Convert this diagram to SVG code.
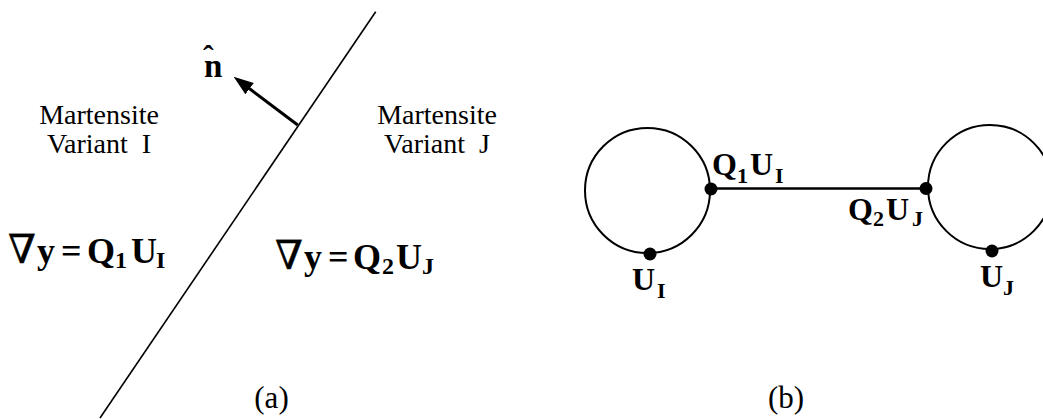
<svg xmlns="http://www.w3.org/2000/svg" width="1043" height="419" viewBox="0 0 1043 419">
<style>
.reg{font-family:"Liberation Serif","Times New Roman",serif;font-size:28px;fill:#000}
.lab{font-family:"Liberation Serif","DejaVu Serif",serif;font-weight:bold;fill:#000}
.nabla{font-family:"DejaVu Serif","Liberation Serif",serif;font-weight:normal;font-size:40px;stroke:#000;stroke-width:0.4}
.big{font-size:36px}
.bsub{font-size:24px}
.mid{font-size:32px}
.msub{font-size:22px}
.cap{font-family:"Liberation Serif","Times New Roman",serif;font-size:31px;fill:#000}
.thin{stroke:#000;stroke-width:1.6;fill:none}
.circ{stroke:#000;stroke-width:2;fill:none}
.dot{fill:#000}
</style>
<defs>
<marker id="ah" markerUnits="userSpaceOnUse" markerWidth="22" markerHeight="16" refX="2" refY="7" orient="auto">
<path d="M0,0 L20,7 L0,14 z" fill="#000"/>
</marker>
</defs>
<rect width="1043" height="419" fill="#fff"/>

<g id="panel-a">
<line id="interface" class="thin" x1="375.7" y1="11.7" x2="100" y2="418"/>
<g id="normal">
<line x1="297.7" y1="125" x2="248" y2="87.5" stroke="#000" stroke-width="3" marker-end="url(#ah)"/>
<text class="lab" x="204" y="77" font-size="33">n<tspan x="203" y="67" font-size="32">ˆ</tspan></text>
</g>
<g id="variantI">
<text class="reg" x="99" y="124" text-anchor="middle">Martensite</text>
<text class="reg" x="99" y="153" text-anchor="middle" xml:space="preserve">Variant  I</text>
</g>
<g id="variantJ">
<text class="reg" x="437" y="124" text-anchor="middle">Martensite</text>
<text class="reg" x="437" y="153" text-anchor="middle" xml:space="preserve">Variant  J</text>
</g>
<g id="eqI" class="lab">
<text class="nabla" x="8" y="263">∇</text>
<text class="big" x="37" y="263">y</text>
<text class="big" x="61" y="263">=</text>
<text class="big" x="87" y="263">Q</text>
<text class="bsub" x="115" y="268">1</text>
<text class="big" x="131" y="263">U</text>
<text class="bsub" x="156" y="268">I</text>
</g>
<g id="eqJ" class="lab">
<text class="nabla" x="275" y="269">∇</text>
<text class="big" x="304" y="269">y</text>
<text class="big" x="328" y="269">=</text>
<text class="big" x="353" y="269">Q</text>
<text class="bsub" x="382" y="274">2</text>
<text class="big" x="396" y="269">U</text>
<text class="bsub" x="422" y="274">J</text>
</g>
<text class="cap" x="271.5" y="408" text-anchor="middle">(a)</text>
</g>

<g id="panel-b">
<g id="connectors">
<line x1="711" y1="188.5" x2="926" y2="188.5" stroke="#000" stroke-width="2.6"/>
</g>
<g id="wellI">
<circle class="circ" cx="647.5" cy="190.5" r="62.5"/>
</g>
<g id="wellJ">
<circle class="circ" cx="990" cy="187" r="62"/>
</g>
<g id="Q1UI" class="lab">
<circle class="dot" cx="711" cy="189" r="6.5"/>
<text class="mid" x="712" y="175">Q</text>
<text class="msub" x="737" y="183">1</text>
<text class="mid" x="750" y="175">U</text>
<text class="msub" x="775" y="183">I</text>
</g>
<g id="Q2UJ" class="lab">
<circle class="dot" cx="926" cy="188.5" r="6.5"/>
<text class="mid" x="848" y="220">Q</text>
<text class="msub" x="873" y="226">2</text>
<text class="mid" x="886" y="220">U</text>
<text class="msub" x="912" y="226">J</text>
</g>
<g id="UI" class="lab">
<circle class="dot" cx="650" cy="254" r="6.5"/>
<text class="mid" x="632" y="290">U</text>
<text class="msub" x="657" y="298">I</text>
</g>
<g id="UJ" class="lab">
<circle class="dot" cx="992" cy="251" r="6.5"/>
<text class="mid" x="980" y="287">U</text>
<text class="msub" x="1003" y="295">J</text>
</g>
<text class="cap" x="786" y="408" text-anchor="middle">(b)</text>
</g>
</svg>
